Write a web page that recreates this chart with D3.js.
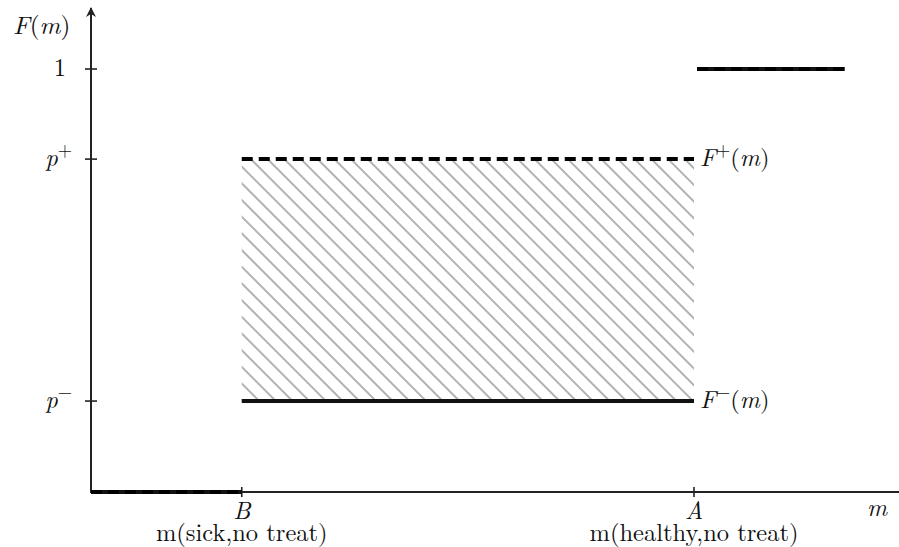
<!DOCTYPE html>
<html>
<head>
<meta charset="utf-8">
<script src="https://cdn.jsdelivr.net/npm/d3@7"></script>
<style>
  html, body { margin: 0; padding: 0; background: #fff; }
</style>
</head>
<body>
<div id="chart"></div>
<script>
// m values of the two reference points on the horizontal axis
const mNames = ["B", "A"];
const mValues = [1, 4];
const mCaptions = ["m(sick,no treat)", "m(healthy,no treat)"];

// probability levels on the vertical axis
const pNames = ["1", "p+", "p−"];
const pValues = [1, 0.787, 0.215];

// bounds of the distribution: [m start, m end, F]
const upperSegments = [[0, 1, 0], [1, 4, 0.787], [4.02, 5, 1]];
const lowerSegments = [[0, 1, 0], [1, 4, 0.215], [4.02, 5, 1]];

const width = 899;
const height = 547;
const fontFamily = '"Latin Modern Roman", "Liberation Serif", serif';
const fs = 24.5;

const svg = d3.select("#chart").append("svg")
  .attr("width", width)
  .attr("height", height);

const x = d3.scaleLinear().domain([0, 4]).range([91, 694]);
const y = d3.scaleLinear().domain([0, 1]).range([492, 69]);

const defs = svg.append("defs");

defs.append("marker")
  .attr("id", "arrow")
  .attr("viewBox", "0 0 10 10")
  .attr("refX", 9).attr("refY", 5)
  .attr("markerWidth", 5).attr("markerHeight", 6)
  .attr("markerUnits", "strokeWidth")
  .attr("orient", "auto")
  .append("path")
  .attr("d", "M0,0 L10,5 L0,10 L3,5 Z")
  .attr("fill", "#222");

const hatch = defs.append("pattern")
  .attr("id", "hatch")
  .attr("patternUnits", "userSpaceOnUse")
  .attr("width", 11.8).attr("height", 11.8)
  .attr("patternTransform", "rotate(-45)");
hatch.append("line")
  .attr("x1", 5.9).attr("y1", 0).attr("x2", 5.9).attr("y2", 11.8)
  .attr("stroke", "#555")
  .attr("stroke-width", 0.9);

// shaded region between the bounds
svg.append("rect")
  .attr("x", x(mValues[0]))
  .attr("y", y(upperSegments[1][2]))
  .attr("width", x(mValues[1]) - x(mValues[0]))
  .attr("height", y(lowerSegments[1][2]) - y(upperSegments[1][2]))
  .attr("fill", "url(#hatch)");

// axes
svg.append("line")
  .attr("x1", x(0)).attr("y1", y(0))
  .attr("x2", x(0)).attr("y2", 8)
  .attr("stroke", "#222").attr("stroke-width", 2)
  .attr("marker-end", "url(#arrow)");

svg.append("line")
  .attr("x1", x(0) - 1).attr("y1", y(0))
  .attr("x2", width).attr("y2", y(0))
  .attr("stroke", "#222").attr("stroke-width", 2);

svg.selectAll("line.ytick")
  .data(pValues)
  .enter().append("line")
  .attr("class", "ytick")
  .attr("x1", x(0) - 6).attr("x2", x(0) + 6)
  .attr("y1", d => y(d)).attr("y2", d => y(d))
  .attr("stroke", "#222").attr("stroke-width", 1.6);

svg.selectAll("line.xtick")
  .data(mValues)
  .enter().append("line")
  .attr("class", "xtick")
  .attr("x1", d => x(d)).attr("x2", d => x(d))
  .attr("y1", y(0) - 5).attr("y2", y(0) + 5)
  .attr("stroke", "#222").attr("stroke-width", 1.6);

// bounds
svg.selectAll("line.lower")
  .data(lowerSegments)
  .enter().append("line")
  .attr("class", "lower")
  .attr("x1", d => x(d[0])).attr("x2", d => x(d[1]))
  .attr("y1", d => y(d[2])).attr("y2", d => y(d[2]))
  .attr("stroke", "#111").attr("stroke-width", 4);

svg.selectAll("line.upper")
  .data(upperSegments)
  .enter().append("line")
  .attr("class", "upper")
  .attr("x1", d => x(d[0])).attr("x2", d => x(d[1]))
  .attr("y1", d => y(d[2])).attr("y2", d => y(d[2]))
  .attr("stroke", "#000").attr("stroke-width", 4)
  .attr("stroke-dasharray", "11,6");

// math-style labels
function mathLabel(sel, base, sup, arg) {
  sel.append("tspan").style("font-style", "italic").text(base);
  if (sup) {
    sel.append("tspan").attr("dy", -10).attr("font-size", "0.75em").text(sup);
    sel.append("tspan").attr("dy", 10).text(arg ? "(" : "");
  } else if (arg) {
    sel.append("tspan").text("(");
  }
  if (arg) {
    sel.append("tspan").style("font-style", "italic").text(arg);
    sel.append("tspan").text(")");
  }
}

function label(x0, y0, anchor) {
  return svg.append("text")
    .attr("x", x0).attr("y", y0)
    .attr("text-anchor", anchor || "start")
    .attr("font-size", fs)
    .style("font-family", fontFamily)
    .style("fill", "#111");
}

label(13, 34).attr("font-size", 25.5).call(mathLabel, "F", null, "m");

pNames.forEach((name, i) => {
  const t = label(x(0) - 19, y(pValues[i]) + 7, "end");
  if (name === "1") t.attr("x", x(0) - 25).text("1");
  else t.call(mathLabel, "p", name.slice(1), null);
});

label(x(4) + 6, y(upperSegments[1][2]) + 7).call(mathLabel, "F", "+", "m");
label(x(4) + 6, y(lowerSegments[1][2]) + 7).call(mathLabel, "F", "−", "m");

mValues.forEach((v, i) => {
  label(x(v), 519, "middle").style("font-style", "italic").text(mNames[i]);
  label(x(v), 541, "middle").text(mCaptions[i]);
});

label(877, 516, "middle").style("font-style", "italic").text("m");
</script>
</body>
</html>
